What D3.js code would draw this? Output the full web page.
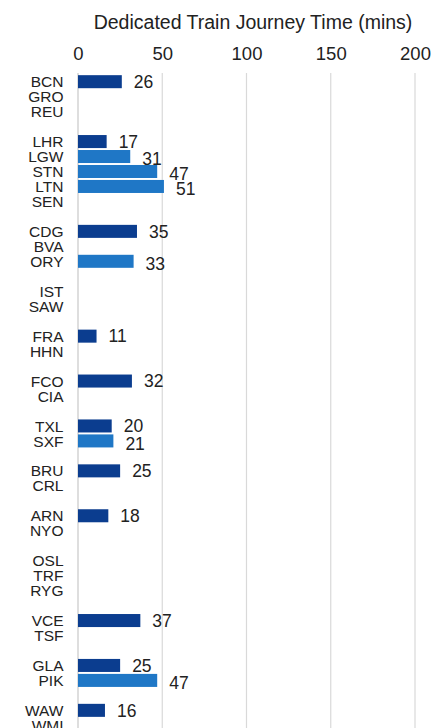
<!DOCTYPE html>
<html>
<head>
<meta charset="utf-8">
<script src="https://cdn.jsdelivr.net/npm/d3@7"></script>
<style>
  body { margin: 0; background: #fff; }
  svg { display: block; font-family: "Liberation Sans", Arial, sans-serif; }
</style>
</head>
<body>
<script>
// rows of the chart, "" is a blank spacer row
const airports = ["BCN", "GRO", "REU", "",
  "LHR", "LGW", "STN", "LTN", "SEN", "",
  "CDG", "BVA", "ORY", "",
  "IST", "SAW", "",
  "FRA", "HHN", "",
  "FCO", "CIA", "",
  "TXL", "SXF", "",
  "BRU", "CRL", "",
  "ARN", "NYO", "",
  "OSL", "TRF", "RYG", "",
  "VCE", "TSF", "",
  "GLA", "PIK", "",
  "WAW", "WMI"];

// journey time in minutes (null = no dedicated train)
const journeyTimes = [26, null, null, null,
  17, 31, 47, 51, null, null,
  35, null, 33, null,
  null, null, null,
  11, null, null,
  32, null, null,
  20, 21, null,
  25, null, null,
  18, null, null,
  null, null, null, null,
  37, null, null,
  25, 47, null,
  16, null];

// "main" = dark bar, "second" = light bar
const airportType = ["main", "", "", "",
  "main", "second", "second", "second", "", "",
  "main", "", "second", "",
  "", "", "",
  "main", "", "",
  "main", "", "",
  "main", "second", "",
  "main", "", "",
  "main", "", "",
  "", "", "", "",
  "main", "", "",
  "main", "second", "",
  "main", ""];

const xTicks = [0, 50, 100, 150, 200];
const title = "Dedicated Train Journey Time (mins)";

const width = 433;
const height = 728;

const colors = { main: "#0b3d8f", second: "#1f77c6" };

const svg = d3.select("body").append("svg")
    .attr("width", width)
    .attr("height", height);

const x = d3.scaleLinear()
    .domain([0, 200])
    .range([78, 415]);

const y = d3.scaleBand()
    .domain(d3.range(airports.length))
    .range([74.2, 732.8])
    .paddingInner(0.13)
    .paddingOuter(0.065);

// title
svg.append("text")
    .attr("x", 253)
    .attr("y", 29)
    .attr("text-anchor", "middle")
    .attr("font-size", "19.5px")
    .attr("fill", "#222")
    .text(title);

// tick labels along the top
const axis = svg.append("g")
    .attr("transform", "translate(0,60)")
    .call(d3.axisTop(x).tickValues(xTicks).tickSize(0).tickPadding(0));
axis.select(".domain").remove();
axis.selectAll("text")
    .attr("font-size", "18.5px")
    .attr("fill", "#222")
    .attr("font-family", "Liberation Sans, Arial, sans-serif");

// gridlines
svg.append("g")
    .selectAll("line")
    .data(xTicks)
    .join("line")
    .attr("x1", d => x(d))
    .attr("x2", d => x(d))
    .attr("y1", 73)
    .attr("y2", height)
    .attr("stroke", d => d === 0 ? "#c8c8c8" : "#d9d9d9")
    .attr("stroke-width", 1.2);

const rows = airports.map((a, i) => ({ name: a, value: journeyTimes[i], type: airportType[i], i: i }));

// category labels
svg.append("g")
    .selectAll("text")
    .data(rows.filter(d => d.name !== ""))
    .join("text")
    .attr("x", 63.5)
    .attr("y", d => y(d.i) + y.bandwidth() / 2)
    .attr("dy", "0.36em")
    .attr("text-anchor", "end")
    .attr("font-size", "15.5px")
    .attr("fill", "#222")
    .text(d => d.name);

const barRows = rows.filter(d => d.value !== null);

// bars
svg.append("g")
    .selectAll("rect")
    .data(barRows)
    .join("rect")
    .attr("x", x(0))
    .attr("y", d => y(d.i))
    .attr("width", d => x(d.value) - x(0))
    .attr("height", y.bandwidth())
    .attr("fill", d => colors[d.type]);

// value labels
svg.append("g")
    .selectAll("text")
    .data(barRows)
    .join("text")
    .attr("x", d => x(d.value) + 12)
    .attr("y", d => y(d.i) + y.bandwidth() / 2)
    .attr("dy", d => d.type === "second" ? "0.5em" : "0.36em")
    .attr("font-size", "17.5px")
    .attr("fill", "#222")
    .text(d => d.value);
</script>
</body>
</html>
